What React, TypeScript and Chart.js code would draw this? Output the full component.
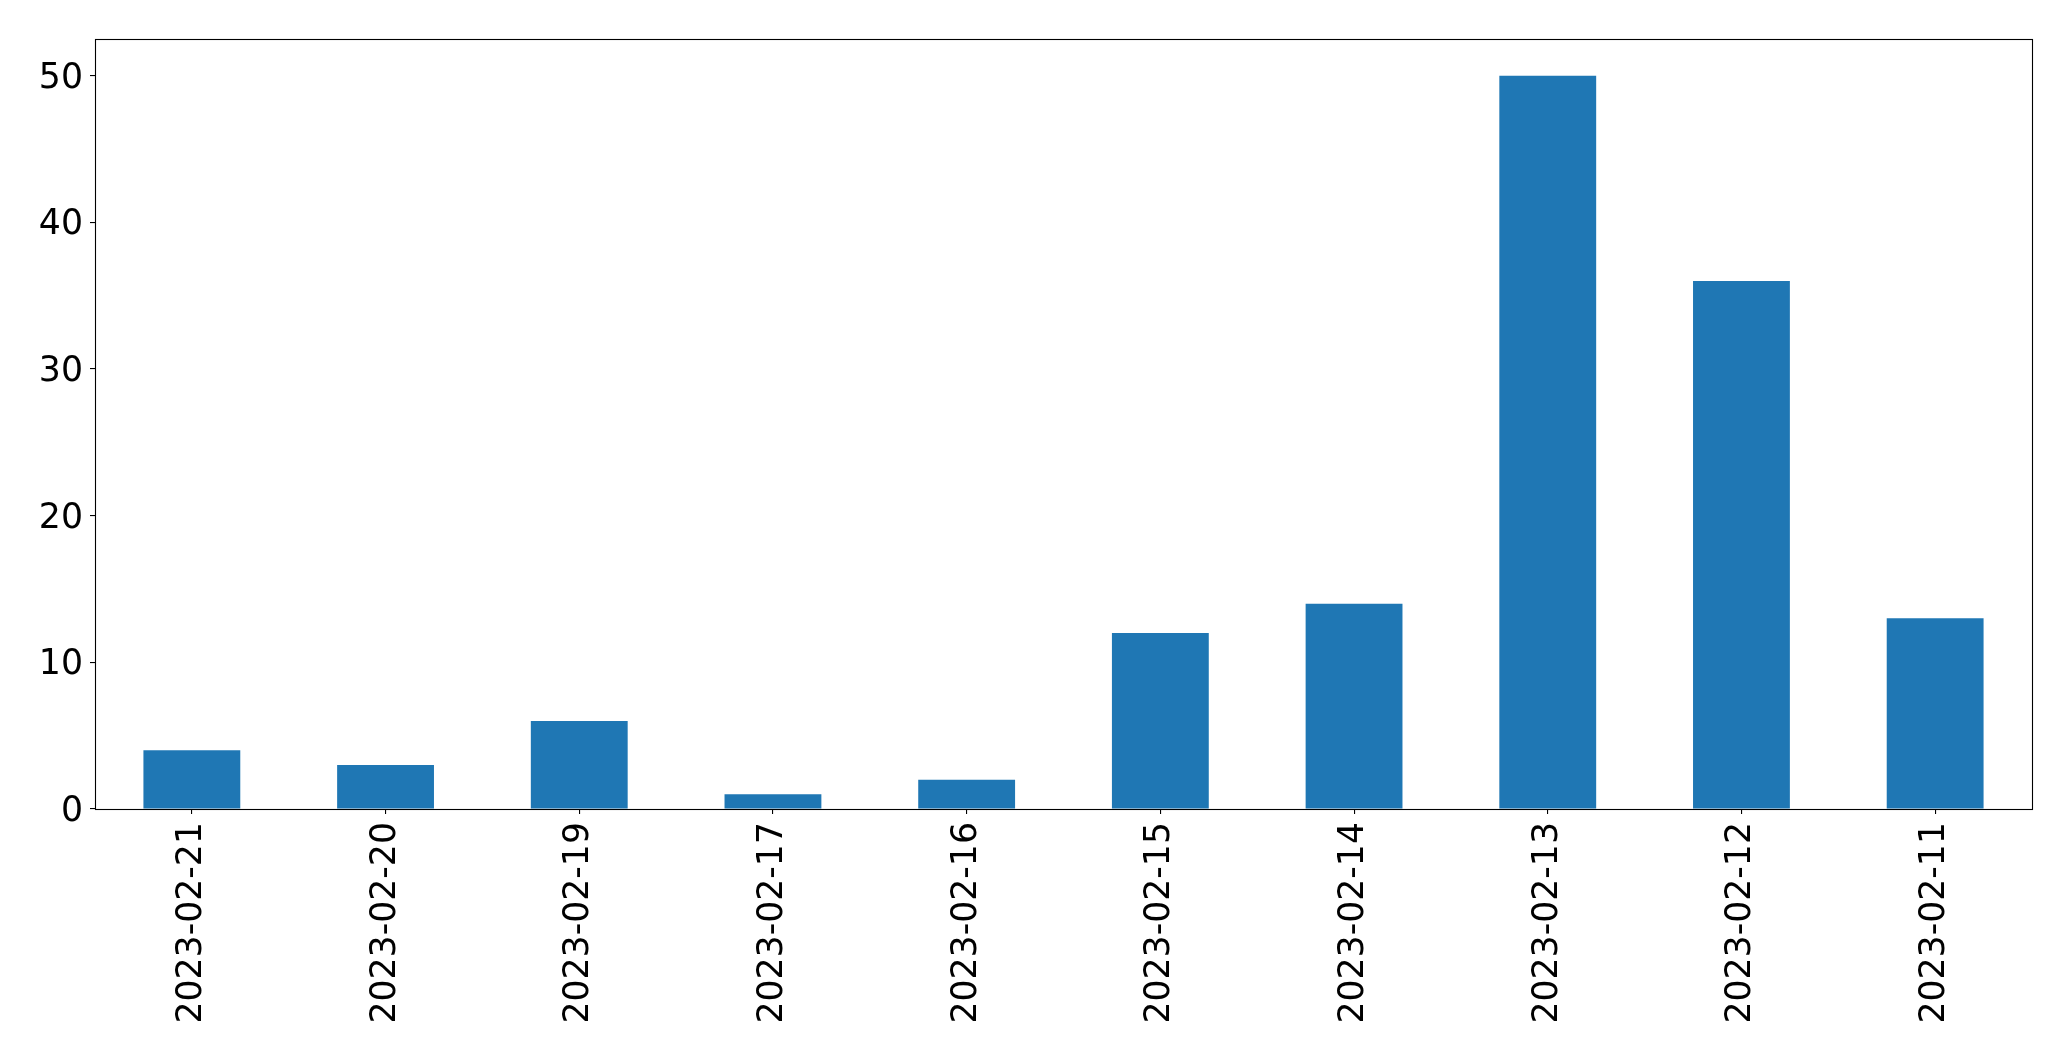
import React, { useEffect, useRef } from "react";
import { Chart, registerables } from "chart.js";

Chart.register(...registerables);

const categories: string[] = [
  "2023-02-21",
  "2023-02-20",
  "2023-02-19",
  "2023-02-17",
  "2023-02-16",
  "2023-02-15",
  "2023-02-14",
  "2023-02-13",
  "2023-02-12",
  "2023-02-11",
];
const counts: number[] = [4, 3, 6, 1, 2, 12, 14, 50, 36, 13];
const yTicks: number[] = [0, 10, 20, 30, 40, 50];
const yMax = 52.5;

const FONT = { family: "'DejaVu Sans', sans-serif", size: 34.7 };

const framePlugin = {
  id: "frame",
  afterDraw(chart: any) {
    const { ctx, chartArea } = chart;
    ctx.save();
    ctx.strokeStyle = "#000000";
    ctx.lineWidth = 1.1;
    ctx.strokeRect(
      Math.round(chartArea.left) + 0.5,
      Math.round(chartArea.top) + 0.5,
      Math.round(chartArea.right - chartArea.left),
      Math.round(chartArea.bottom - chartArea.top)
    );
    ctx.restore();
  },
};

export default function App() {
  const ref = useRef<HTMLCanvasElement | null>(null);

  useEffect(() => {
    if (!ref.current) return;
    const chart = new Chart(ref.current, {
      type: "bar",
      data: {
        labels: categories,
        datasets: [
          {
            data: counts,
            backgroundColor: "#1f77b4",
            borderWidth: 0,
            categoryPercentage: 1,
            barPercentage: 0.5,
          },
        ],
      },
      options: {
        animation: false,
        responsive: false,
        devicePixelRatio: 1,
        layout: { padding: { top: 39, right: 39, left: 0, bottom: 0 } },
        plugins: {
          legend: { display: false },
          tooltip: { enabled: false },
          title: { display: false },
        },
        scales: {
          x: {
            type: "category",
            offset: true,
            grid: {
              display: true,
              offset: false,
              drawOnChartArea: false,
              drawTicks: true,
              tickLength: 5,
              color: "#000000",
              lineWidth: 1.1,
            },
            border: { display: false },
            ticks: {
              minRotation: 90,
              maxRotation: 90,
              autoSkip: false,
              padding: 8,
              color: "#000000",
              font: FONT,
            },
            afterFit: (scale: any) => {
              scale.height = 252;
            },
          },
          y: {
            type: "linear",
            min: 0,
            max: yMax,
            grid: {
              display: true,
              drawOnChartArea: false,
              drawTicks: true,
              tickLength: 5,
              color: "#000000",
              lineWidth: 1.1,
            },
            border: { display: false },
            ticks: {
              includeBounds: false,
              padding: 7,
              labelOffset: 3,
              color: "#000000",
              font: FONT,
            },
            afterBuildTicks: (scale: any) => {
              scale.ticks = yTicks.map((v) => ({ value: v }));
            },
            afterFit: (scale: any) => {
              scale.width = 95;
            },
          },
        },
      },
      plugins: [framePlugin],
    });
    return () => chart.destroy();
  }, []);

  return (
    <div style={{ position: "absolute", left: 0, top: 0, width: 2071, height: 1061, background: "#ffffff" }}>
      <canvas ref={ref} width={2071} height={1061} style={{ display: "block", width: 2071, height: 1061 }} />
    </div>
  );
}
